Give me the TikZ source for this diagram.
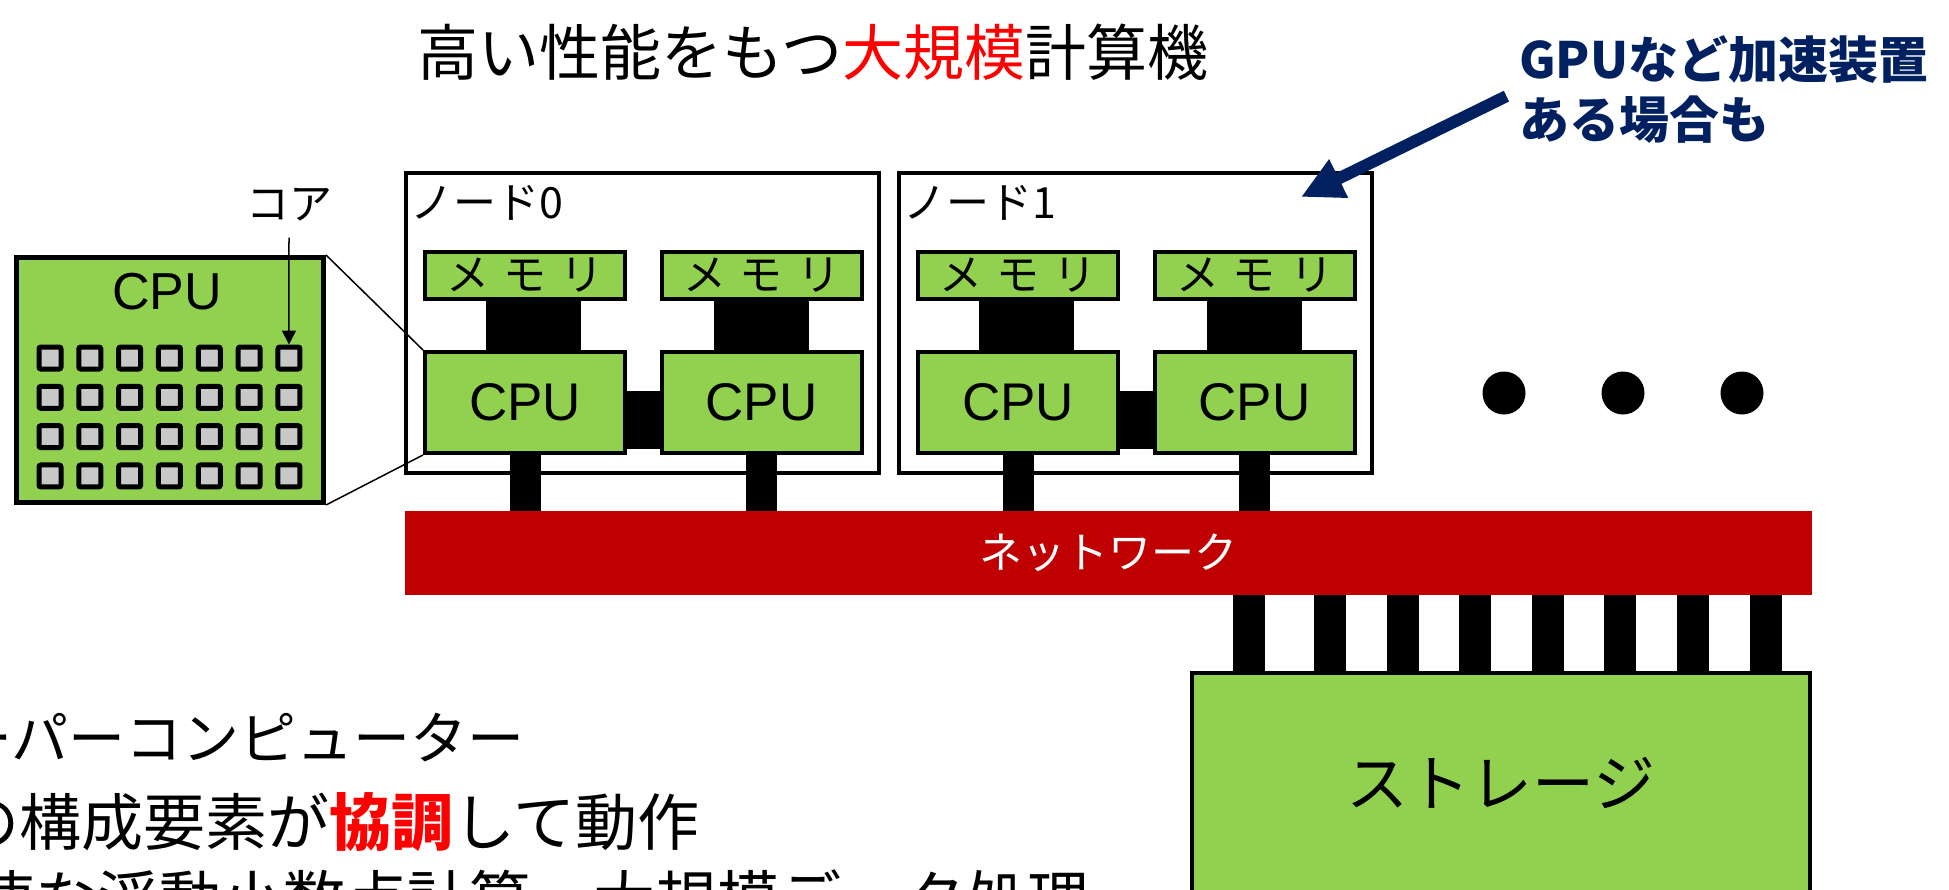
\documentclass[tikz,border=0pt]{standalone}
\usepackage{fontspec}
\setmainfont{Liberation Sans}
\newfontfamily\jp{Noto Sans CJK JP}
\usetikzlibrary{arrows.meta}
\usetikzlibrary{positioning}
\definecolor{cpugreen}{HTML}{92D050}
\definecolor{netred}{HTML}{C00000}
\definecolor{navy}{HTML}{002060}
\definecolor{coregray}{HTML}{C8C8C8}
\newcommand{\fsize}[1]{\fontsize{#1}{#1}\selectfont}
\tikzset{
  txt/.style={inner sep=0pt},
  box/.style={draw,line width=4pt,fill=cpugreen,inner sep=0pt},
  mem/.style={box,minimum width=200pt,minimum height=47pt,font=\jp\fsize{43}},
  cpu/.style={box,minimum width=200pt,minimum height=101pt,font=\fsize{53}},
  nodebox/.style={draw,line width=4pt,minimum width=473pt,minimum height=300pt},
  core/.style={draw,line width=5pt,fill=coregray,minimum size=22pt,rounded corners=2pt,inner sep=0pt},
  bus/.style={line width=#1pt},
}

\begin{document}
\begin{tikzpicture}[x=1pt,y=-1pt]
	\useasboundingbox (0,0) rectangle (1949,889);
	\clip (0,0) rectangle (1949,889);

	% title
	\node[txt,font=\jp\fsize{61}] (title) at (813,52) {高い性能をもつ\textcolor{red}{大規模}計算機};

	% network
	\node[fill=netred,minimum width=1407pt,minimum height=84pt,inner sep=0pt,text=white,font=\jp\fsize{43}] (net) at (1108.5,553) {ネットワーク};

	% nodes
	\foreach \n [evaluate=\n as \dx using 493*\n] in {0,1} {
		\node[nodebox] (node\n) at (642.5+\dx,323) {};
		\node[txt,anchor=west,font=\jp\fsize{43}] (nodelbl\n) at (410+\dx,203) {ノード\n};
		\node[mem] (memA\n) at (525+\dx,275) {メ\hspace{14pt}モ\hspace{14pt}リ};
		\node[mem] (memB\n) at (761.5+\dx,275) {メ\hspace{14pt}モ\hspace{14pt}リ};
		\node[cpu] (cpuA\n) at (525+\dx,402.5) {CPU};
		\node[cpu] (cpuB\n) at (761.5+\dx,402.5) {CPU};
		\draw[bus=95] ([xshift=8.5pt]memA\n.south) -- ([xshift=8.5pt]cpuA\n.north);
		\draw[bus=95] (memB\n.south) -- (cpuB\n.north);
		\draw[bus=58] ([yshift=-17.5pt]cpuA\n.east) -- ([yshift=-17.5pt]cpuB\n.west);
		\draw[bus=31] (cpuA\n.south) -- (cpuA\n.south |- net.north);
		\draw[bus=31] (cpuB\n.south) -- (cpuB\n.south |- net.north);
	}

	% zoomed cpu
	\node[box,line width=5pt,minimum width=307pt,minimum height=245pt] (bigcpu) at (170,380) {};
	\node[txt,font=\fsize{52}] (bigcpulbl) at (167,292) {CPU};
	\foreach \c in {0,...,6}
		\foreach \r in {0,...,3} \node[core] (core-\c-\r) at (50+39.83*\c,358+39.33*\r) {};
	\node[txt,font=\jp\fsize{43}] (koa) at (289,205) {コア};
	\draw[line width=1.5pt,-{Triangle[length=14pt,width=14pt]},shorten <=16pt] (koa.south) -- (core-6-0.north);
	\draw[line width=1.5pt] (bigcpu.north east) -- (cpuA0.north west);
	\draw[line width=1.5pt] (bigcpu.south east) -- (cpuA0.south west);

	% more nodes
	\foreach \i/\x in {0/1504,1/1623,2/1742} \node[circle,fill,minimum size=43pt,inner sep=0pt] (dot\i) at (\x,393) {};

	% storage
	\node[box,minimum width=618pt,minimum height=220pt,font=\jp\fsize{62}] (stor) at (1501,783) {ストレージ};
	\foreach \x [count=\i] in {1249,1330,1403,1475,1548,1620,1693,1766} {
		\coordinate (st\i) at (\x,0);
		\draw[bus=32] (st\i |- net.south) -- (st\i |- stor.north);
	}

	% accelerator note
	\node[txt,anchor=west,align=left,text=navy,font=\jp\bfseries\fontsize{50}{60}\selectfont] (gpu) at (1519,90) {GPUなど加速装置\\ある場合も};
	\coordinate (gputip) at (1301,197);
	\draw[navy,line width=12pt,-{Triangle[length=42pt,width=40pt]},shorten <=14pt] (gpu.west) -- (gputip);

	% bottom text
	\node[txt,anchor=east,font=\jp\fsize{57}] (line1) at (525,738) {スーパーコンピューター};
	\node[txt,anchor=east,font=\jp\fsize{62}] (line2) at (700,822) {の構成要素が\textcolor{red}{\bfseries 協調}して動作};
	\node[txt,anchor=east,font=\jp\fsize{62}] (line3) at (1090,899) {高速な浮動小数点計算・大規模データ処理};
\end{tikzpicture}
\end{document}
